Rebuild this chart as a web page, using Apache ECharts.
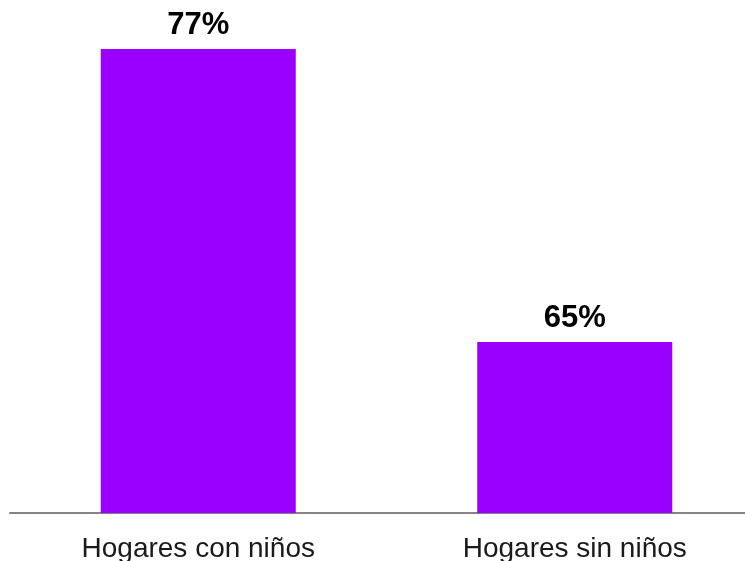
<!DOCTYPE html>
<html>
<head>
<meta charset="utf-8">
<style>
  html, body { margin: 0; padding: 0; background: #ffffff; }
  #chart { width: 745px; height: 561px; }
</style>
<script src="https://cdn.jsdelivr.net/npm/echarts@6/dist/echarts.min.js"></script>
</head>
<body>
<div id="chart"></div>
<script>
// Share of households, by presence of children (%)
const categories = ['Hogares con niños', 'Hogares sin niños'];
const values = [77, 65];

// Value axis range (the axis is truncated, not starting at zero)
const axisMin = 58;
const axisMax = 77;

const chart = echarts.init(document.getElementById('chart'), null, { renderer: 'canvas' });

chart.setOption({
  animation: false,
  backgroundColor: '#ffffff',
  grid: {
    left: 10, width: 753, top: 49, bottom: 48,
    containLabel: false,
    outerBoundsMode: 'none'
  },
  xAxis: {
    type: 'category',
    data: categories,
    axisLine: { show: true, lineStyle: { color: '#858585', width: 2 } },
    axisTick: { show: false },
    axisLabel: {
      color: '#1a1a1a',
      fontFamily: 'Liberation Sans, Arial, sans-serif',
      fontSize: 28,
      margin: 22
    }
  },
  yAxis: {
    type: 'value',
    min: axisMin,
    max: axisMax,
    show: false,
    splitLine: { show: false }
  },
  series: [{
    type: 'bar',
    data: values,
    barWidth: '51.8%',
    itemStyle: { color: '#9900ff' },
    label: {
      show: true,
      position: 'top',
      distance: 8,
      formatter: '{c}%',
      color: '#000000',
      fontFamily: 'Liberation Sans, Arial, sans-serif',
      fontWeight: 900,
      fontSize: 31
    }
  }]
});
</script>
</body>
</html>
